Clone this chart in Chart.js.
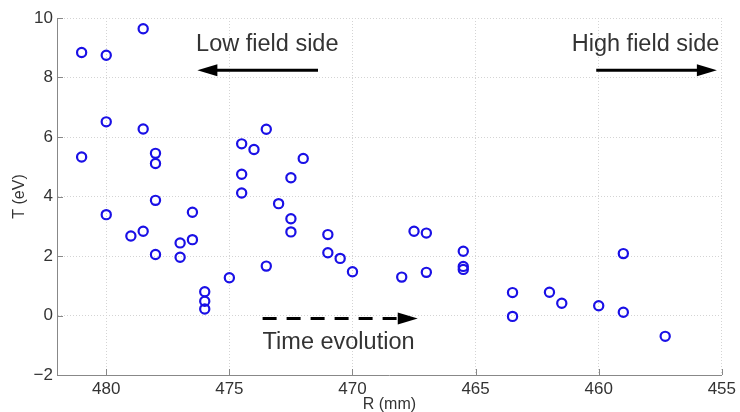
<!DOCTYPE html>
<html>
<head>
<meta charset="utf-8">
<script src="https://cdn.jsdelivr.net/npm/chart.js@4/dist/chart.umd.min.js"></script>
<style>
html,body{margin:0;padding:0;background:#fff;}
#wrap{width:740px;height:412px;}
</style>
</head>
<body>
<div id="wrap"><canvas id="c" width="740" height="412"></canvas></div>
<script>
// Radius R (mm)
const R = [481, 480, 478.5, 480, 478.5, 481, 478, 478, 478, 474.5, 474, 473.5, 472, 474.5, 472.5, 474.5, 473,
           480, 479, 478.5, 478, 477, 477, 476.5, 476.5, 476, 476, 476, 475, 473.5, 472.5, 472.5, 471, 471, 470.5, 470,
           468, 467.5, 467, 467, 465.5, 465.5, 465.5, 463.5, 463.5, 462, 461.5, 460, 459, 459, 457.3];
// Temperature T (eV)
const T = [8.84, 8.75, 9.64, 6.51, 6.27, 5.33, 5.45, 5.11, 3.87, 5.77, 5.58, 6.26, 5.28, 4.75, 4.63, 4.12, 3.76,
           3.39, 2.67, 2.83, 2.05, 2.44, 1.96, 3.47, 2.55, 0.80, 0.48, 0.22, 1.27, 1.66, 3.25, 2.81, 2.72, 2.11, 1.92, 1.47,
           1.29, 2.83, 2.77, 1.45, 2.16, 1.65, 1.55, 0.77, -0.03, 0.78, 0.41, 0.33, 2.08, 0.11, -0.70];
const xTicks = [480, 475, 470, 465, 460, 455];
const yTicks = [-2, 0, 2, 4, 6, 8, 10];
const xTitle = 'R (mm)';
const yTitle = 'T (eV)';
const notes = {
  low: {text: 'Low field side', x0: 471.4, x1: 476.3, y: 8.24, tx: 476.35, ty: 9.1},
  high: {text: 'High field side', x0: 460.1, x1: 455.2, y: 8.24, tx: 455.1, ty: 9.1},
  time: {text: 'Time evolution', x0: 473.65, x1: 467.35, y: -0.1, tx: 473.65, ty: -0.9}
};

const points = R.map((r, i) => ({x: r, y: T[i]}));
const FONT = '"Liberation Sans", Arial, sans-serif';
const TXT = '#333333';

function arrow(ctx, x0, y, x1, dashed) {
  const dir = Math.sign(x1 - x0);
  const headLen = 20, headHalf = 6;
  const lineEnd = x1 - dir * headLen;
  ctx.save();
  ctx.strokeStyle = '#000';
  ctx.fillStyle = '#000';
  ctx.lineWidth = 3;
  if (dashed) ctx.setLineDash([14, 10]);
  ctx.beginPath();
  ctx.moveTo(x0, y);
  ctx.lineTo(lineEnd + dir * 2, y);
  ctx.stroke();
  ctx.setLineDash([]);
  ctx.beginPath();
  ctx.moveTo(x1, y);
  ctx.lineTo(lineEnd, y - headHalf);
  ctx.lineTo(lineEnd, y + headHalf);
  ctx.closePath();
  ctx.fill();
  ctx.restore();
}

const decor = {
  id: 'decor',
  afterDatasetsDraw(chart) {
    const ctx = chart.ctx;
    const xs = chart.scales.x, ys = chart.scales.y;
    const a = chart.chartArea;
    // inward ticks
    ctx.save();
    ctx.strokeStyle = '#888';
    ctx.lineWidth = 1;
    ctx.beginPath();
    xTicks.forEach(v => {
      const p = Math.round(xs.getPixelForValue(v)) + 0.5;
      ctx.moveTo(p, a.bottom); ctx.lineTo(p, a.bottom - 6);
    });
    yTicks.forEach(v => {
      const p = Math.round(ys.getPixelForValue(v)) + 0.5;
      ctx.moveTo(a.left, p); ctx.lineTo(a.left + 6, p);
    });
    ctx.stroke();
    ctx.restore();

    // annotations
    ctx.save();
    ctx.fillStyle = TXT;
    ctx.font = '23.5px ' + FONT;
    ctx.textBaseline = 'middle';
    const L = notes.low, H = notes.high, Tm = notes.time;
    ctx.textAlign = 'left';
    ctx.fillText(L.text, xs.getPixelForValue(L.tx), ys.getPixelForValue(L.ty));
    ctx.textAlign = 'right';
    ctx.fillText(H.text, xs.getPixelForValue(H.tx), ys.getPixelForValue(H.ty));
    ctx.textAlign = 'left';
    ctx.fillText(Tm.text, xs.getPixelForValue(Tm.tx), ys.getPixelForValue(Tm.ty));
    ctx.restore();
    arrow(ctx, xs.getPixelForValue(L.x0), ys.getPixelForValue(L.y), xs.getPixelForValue(L.x1), false);
    arrow(ctx, xs.getPixelForValue(H.x0), ys.getPixelForValue(H.y), xs.getPixelForValue(H.x1), false);
    arrow(ctx, xs.getPixelForValue(Tm.x0), ys.getPixelForValue(Tm.y), xs.getPixelForValue(Tm.x1), true);

    // axis titles
    ctx.save();
    ctx.fillStyle = TXT;
    ctx.font = '16px ' + FONT;
    ctx.textAlign = 'center';
    ctx.textBaseline = 'middle';
    ctx.fillText(xTitle, (a.left + a.right) / 2, 405);
    ctx.translate(20, (a.top + a.bottom) / 2);
    ctx.rotate(-Math.PI / 2);
    ctx.fillText(yTitle, 0, 0);
    ctx.restore();
  }
};

new Chart(document.getElementById('c'), {
  type: 'scatter',
  data: {
    datasets: [{
      data: points,
      pointStyle: 'circle',
      pointRadius: 4.6,
      pointHoverRadius: 4.6,
      pointBorderWidth: 2.2,
      pointBorderColor: '#1a10e6',
      pointBackgroundColor: 'rgba(0,0,0,0)'
    }]
  },
  options: {
    responsive: false,
    animation: false,
    events: [],
    layout: {padding: {top: 18, right: 16, left: 0, bottom: 0}},
    plugins: {legend: {display: false}, tooltip: {enabled: false}},
    scales: {
      x: {
        type: 'linear',
        reverse: true,
        min: 455,
        max: 482,
        afterBuildTicks: s => { s.ticks = xTicks.map(v => ({value: v})); },
        afterFit: s => { s.height = 37; },
        ticks: {color: TXT, font: {size: 17, family: FONT}, padding: 4, maxRotation: 0},
        grid: {color: '#d4d4d4', lineWidth: 1, drawTicks: false, tickLength: 0},
        border: {display: true, color: '#888', width: 1, dash: [1, 2], dashOffset: 0}
      },
      y: {
        type: 'linear',
        min: -2,
        max: 10,
        afterBuildTicks: s => { s.ticks = yTicks.map(v => ({value: v})); },
        afterFit: s => { s.width = 57; },
        ticks: {color: TXT, font: {size: 17, family: FONT}, padding: 4,
                callback: v => String(v).replace('-', '\u2212')},
        grid: {color: '#d4d4d4', lineWidth: 1, drawTicks: false, tickLength: 0},
        border: {display: true, color: '#888', width: 1, dash: [1, 2], dashOffset: 0}
      }
    }
  },
  plugins: [decor]
});
</script>
</body>
</html>
